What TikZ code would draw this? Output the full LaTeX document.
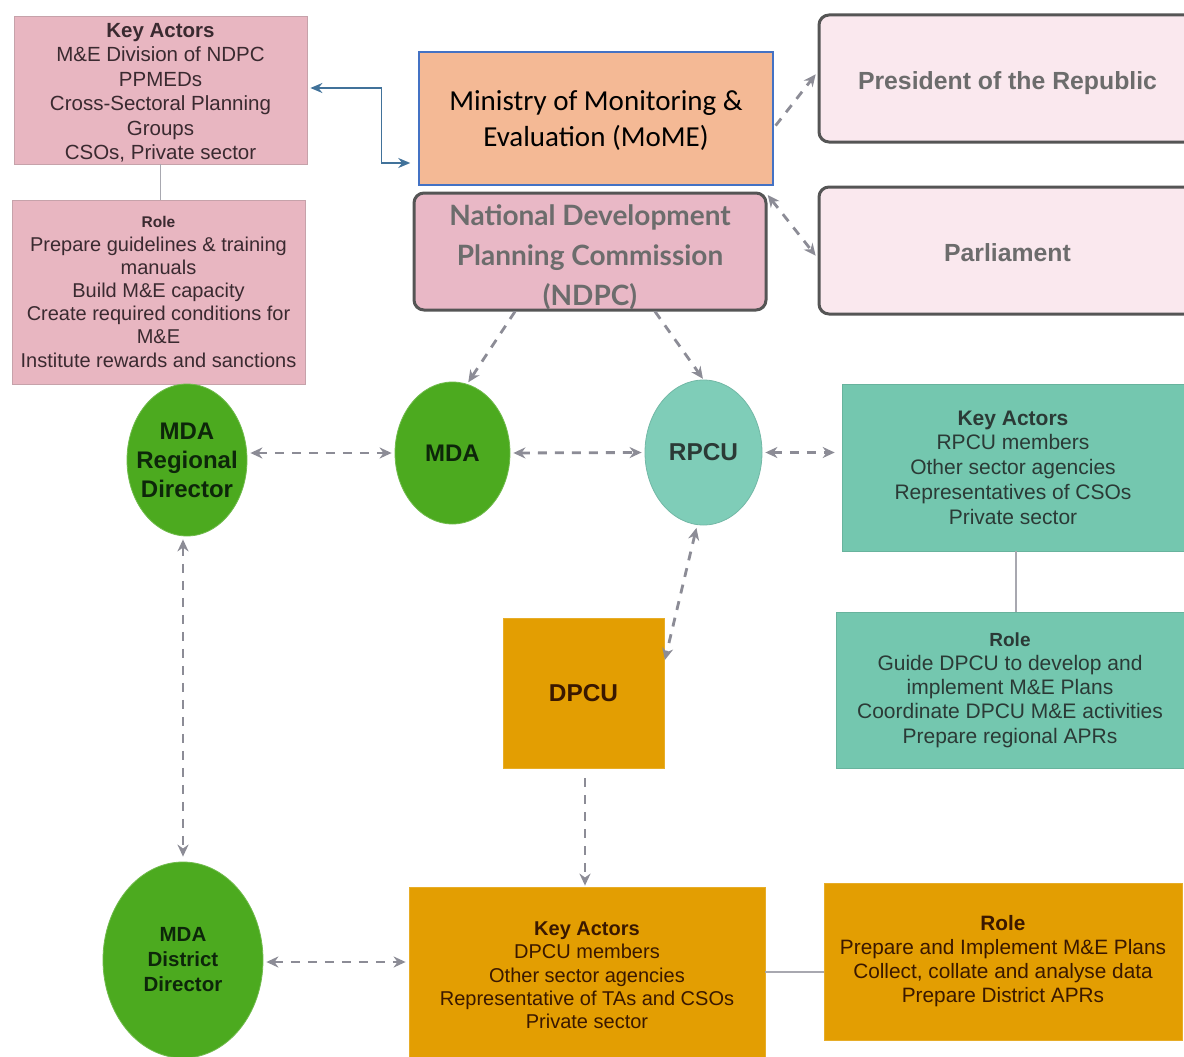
\documentclass[tikz,border=0pt]{standalone}
\usepackage{fontspec}
\setmainfont{Liberation Sans}
\newfontfamily\calibfont{Carlito}
\newfontfamily\ndpcfont{Lato}
\usetikzlibrary{arrows.meta,shapes.geometric}
\definecolor{pinkfill}{HTML}{E8B6C1}
\definecolor{pinkedge}{HTML}{C6A2AA}
\definecolor{pinktext}{HTML}{3A2A30}
\definecolor{momefill}{HTML}{F4B995}
\definecolor{momeedge}{HTML}{4472C4}
\definecolor{ndpcfill}{HTML}{E9B8C6}
\definecolor{darkedge}{HTML}{555555}
\definecolor{greytext}{HTML}{6C6C6C}
\definecolor{lightpink}{HTML}{FAE8EE}
\definecolor{greenfill}{HTML}{4CAA1F}
\definecolor{greentext}{HTML}{0D260A}
\definecolor{rpcufill}{HTML}{7FCDB8}
\definecolor{tealfill}{HTML}{74C7AF}
\definecolor{tealtext}{HTML}{2B3A36}
\definecolor{orangefill}{HTML}{E39E02}
\definecolor{orangetext}{HTML}{3A1800}
\definecolor{arrowgrey}{HTML}{8C8C96}
\definecolor{bluearrow}{HTML}{41729A}
\definecolor{linegrey}{HTML}{A8A8B0}
\newcommand{\fsz}[2]{\fontsize{#1}{#2}\selectfont}
\begin{document}
\begin{tikzpicture}[x=1pt,y=-1pt,
  rectbox/.style={rectangle, inner sep=0pt, align=center},
  pinkbox/.style={rectbox, fill=pinkfill, draw=pinkedge, line width=0.8pt, text=pinktext},
  ovalbox/.style={ellipse, inner sep=0pt, fill=greenfill, draw=greenfill!80!white, line width=0.8pt},
  ovaltext/.style={align=center, text=greentext, font=\bfseries#1},
  tealbox/.style={rectbox, fill=tealfill, draw=tealfill!90!black, line width=0.6pt, text=tealtext},
  orangebox/.style={rectbox, fill=orangefill, draw=orangefill!85!white, line width=0.8pt, text=orangetext},
  roundbox/.style={rectbox, rounded corners=10pt, draw=darkedge, line width=3pt},
  dasharrow/.style={draw=arrowgrey, line width=2.8pt, dash pattern=on 9pt off 8pt, {Stealth[length=12pt,width=11pt]}-{Stealth[length=12pt,width=11pt]}},
  dashto/.style={draw=arrowgrey, line width=2.8pt, dash pattern=on 9pt off 8pt, -{Stealth[length=12pt,width=11pt]}},
  plainline/.style={draw=linegrey, line width=1.8pt},
  bluelink/.style={draw=bluearrow, line width=1.6pt, {Stealth[length=12pt,width=10pt]}-{Stealth[length=12pt,width=10pt]}}
]
\useasboundingbox (0,0) rectangle (1184,1057);
\clip (0,0) rectangle (1184,1057);
\fill[white] (0,0) rectangle (1184,1057);

% top-left pink boxes
\node[pinkbox, minimum width=293pt, minimum height=148pt,
  label={[align=center, text=pinktext, font=\fsz{20.5}{24.5}, yshift=-3pt]center:\textbf{Key Actors}\\M\&E Division of NDPC\\PPMEDs\\Cross-Sectoral Planning\\Groups\\CSOs, Private sector}] (ka1) at (160.5,90) {};
\node[pinkbox, minimum width=293pt, minimum height=184pt, font=\fsz{20}{23.2}] (role1) at (158.5,292)
  {{\fsz{15.5}{18}\textbf{Role}}\\Prepare guidelines \& training\\manuals\\Build M\&E capacity\\Create required conditions for\\M\&E\\Institute rewards and sanctions};

% MoME
\node[rectbox, fill=momefill, draw=momeedge, line width=1.5pt, minimum width=354pt, minimum height=133pt,
  label={[align=center, font=\calibfont\fsz{29}{35.5}, yshift=-2pt]center:Ministry of Monitoring \&\\Evaluation (MoME)}] (mome) at (596,118.5) {};

% NDPC
\node[roundbox, fill=ndpcfill, minimum width=352pt, minimum height=117pt,
  label={[align=center, text=greytext, font=\ndpcfont\bfseries\fsz{28}{40}, yshift=-6pt]center:National Development\\Planning Commission\\(NDPC)}] (ndpc) at (590,251.5) {};

% President / Parliament
\node[roundbox, fill=lightpink, minimum width=381pt, minimum height=127pt,
  label={[text=greytext, font=\bfseries\fsz{24.8}{30}, yshift=-5pt, xshift=-2pt]center:President of the Republic}] (pres) at (1009.5,78.5) {};
\node[roundbox, fill=lightpink, minimum width=381pt, minimum height=127pt,
  label={[text=greytext, font=\bfseries\fsz{24.8}{30}, yshift=-2pt, xshift=-2pt]center:Parliament}] (parl) at (1009.5,250.5) {};

% ellipses
\node[ovalbox, minimum width=120pt, minimum height=152pt,
  label={[ovaltext=\fsz{24}{29}]center:MDA\\Regional\\Director}] (mdard) at (187,460) {};
\node[ovalbox, minimum width=115pt, minimum height=142pt,
  label={[ovaltext=\fsz{24}{29}]center:MDA}] (mda) at (452.5,453) {};
\node[ovalbox, fill=rpcufill, draw=rpcufill!90!black, minimum width=117pt, minimum height=145pt,
  label={[ovaltext=\fsz{24.4}{29}, text=tealtext]center:RPCU}] (rpcu) at (703.5,452.5) {};
\node[ovalbox, minimum width=160pt, minimum height=196pt,
  label={[ovaltext=\fsz{20.5}{25}]center:MDA\\District\\Director}] (mdadd) at (183,960) {};

% teal boxes
\node[tealbox, minimum width=342pt, minimum height=167pt, font=\fsz{21}{24.7}] (ka2) at (1013,467.5)
  {\textbf{Key Actors}\\RPCU members\\Other sector agencies\\Representatives of CSOs\\Private sector};
\node[tealbox, minimum width=348pt, minimum height=156pt, font=\fsz{21}{24.2}] (role2) at (1010,690)
  {{\fsz{19}{22}\textbf{Role}}\\Guide DPCU to develop and\\implement M\&E Plans\\Coordinate DPCU M\&E activities\\Prepare regional APRs};

% DPCU and orange boxes
\node[orangebox, minimum width=161pt, minimum height=150pt, font=\bfseries\fsz{24.4}{29}] (dpcu) at (583.5,693) {DPCU};
\node[orangebox, minimum width=356pt, minimum height=177pt, font=\fsz{20}{23.3}] (ka3) at (587,975.5)
  {\textbf{Key Actors}\\DPCU members\\Other sector agencies\\Representative of TAs and CSOs\\Private sector};
\node[orangebox, minimum width=358pt, minimum height=157pt, font=\fsz{20.8}{24}] (role3) at (1003,961.5)
  {\textbf{Role}\\Prepare and Implement M\&E Plans\\Collect, collate and analyse data\\Prepare District APRs};

% plain connectors
\draw[plainline] (ka1.south) -- (ka1.south |- role1.north);
\draw[plainline] ([xshift=3pt]ka2.south) -- ([xshift=3pt]ka2.south |- role2.north);
\draw[plainline] ([yshift=-10.5pt]role3.west -| ka3.east) -- ([yshift=-10.5pt]role3.west);

% blue link
\draw[bluelink, shorten <=3pt, shorten >=8pt] ([yshift=2pt]ka1.east) -- ++(74,0) |- ([yshift=-44.5pt]mome.west);

% dashed arrows
\draw[dashto, shorten <=3pt, shorten >=3pt] ([yshift=-9.5pt]mome.east) -- ([yshift=6.5pt]pres.west);
\draw[dasharrow, shorten <=2pt, shorten >=3pt] ([xshift=-1pt,yshift=-2pt]ndpc.north east) -- ([yshift=-7.5pt]parl.west);
\draw[dashto, shorten >=2pt] ([xshift=-75pt]ndpc.south) -- (mda.78);
\draw[dashto, shorten >=1pt] ([xshift=65pt]ndpc.south) -- (rpcu.north);
\draw[dasharrow, shorten <=3pt, shorten >=3pt] (mdard.east |- mda.west) -- (mda.west);
\draw[dasharrow, shorten <=3pt, shorten >=3pt] (mda.east) -- (rpcu.west);
\draw[dasharrow, shorten <=3pt, shorten >=7pt] (rpcu.east) -- (rpcu.east -| ka2.west);
\draw[dasharrow, shorten <=3pt, shorten >=2pt] (rpcu.265) -- ([yshift=31pt]dpcu.east);
\draw[dashto, shorten <=10pt, shorten >=1pt] ([xshift=1.5pt]dpcu.south) -- ([xshift=1.5pt]dpcu.south |- ka3.north);
\draw[dasharrow, shorten <=3pt, shorten >=5pt] ([xshift=-4pt]mdard.south) -- (mdadd.north);
\draw[dasharrow, shorten <=3pt, shorten >=3pt] ([yshift=-2pt]mdadd.east) -- ([yshift=-2pt]mdadd.east -| ka3.west);
\end{tikzpicture}
\end{document}
